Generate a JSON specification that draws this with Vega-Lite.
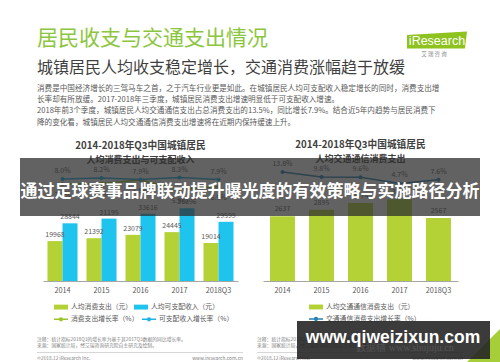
{
  "$schema": "https://vega.github.io/schema/vega-lite/v6.json",
  "padding": {"left": 20, "top": 27, "right": 0, "bottom": 0},
  "background": "white",
  "bounds": "flush",
  "spacing": 176,
  "config": {
    "font": "Noto Sans CJK SC",
    "view": {"stroke": null},
    "axis": {"labelFont": "Noto Sans CJK SC"},
    "legend": {"labelFont": "Noto Sans CJK SC"}
  },
  "datasets": {
    "leftBars": [
      {"year": "2014", "series": "人均消费支出（元）", "value": 19968},
      {"year": "2014", "series": "人均可支配收入（元）", "value": 28844},
      {"year": "2015", "series": "人均消费支出（元）", "value": 21392},
      {"year": "2015", "series": "人均可支配收入（元）", "value": 31195},
      {"year": "2016", "series": "人均消费支出（元）", "value": 23079},
      {"year": "2016", "series": "人均可支配收入（元）", "value": 33616},
      {"year": "2017", "series": "人均消费支出（元）", "value": 24445},
      {"year": "2017", "series": "人均可支配收入（元）", "value": 36396},
      {"year": "2018Q3", "series": "人均消费支出（元）", "value": 19014},
      {"year": "2018Q3", "series": "人均可支配收入（元）", "value": 29599}
    ],
    "leftRates": [
      {"year": "2014", "rate": "消费支出增长率（%）", "pct": 0.070},
      {"year": "2015", "rate": "消费支出增长率（%）", "pct": 0.071},
      {"year": "2016", "rate": "消费支出增长率（%）", "pct": 0.078},
      {"year": "2017", "rate": "消费支出增长率（%）", "pct": 0.059},
      {"year": "2018Q3", "rate": "消费支出增长率（%）", "pct": 0.065},
      {"year": "2014", "rate": "可支配收入增长率（%）", "pct": 0.080},
      {"year": "2015", "rate": "可支配收入增长率（%）", "pct": 0.082},
      {"year": "2016", "rate": "可支配收入增长率（%）", "pct": 0.079},
      {"year": "2017", "rate": "可支配收入增长率（%）", "pct": 0.083},
      {"year": "2018Q3", "rate": "可支配收入增长率（%）", "pct": 0.079}
    ],
    "rightBars": [
      {"year": "2014", "series": "人均交通通信消费支出（元）", "value": 2637},
      {"year": "2015", "series": "人均交通通信消费支出（元）", "value": 2895},
      {"year": "2016", "series": "人均交通通信消费支出（元）", "value": 3174},
      {"year": "2017", "series": "人均交通通信消费支出（元）", "value": 3322},
      {"year": "2018Q3", "series": "人均交通通信消费支出（元）", "value": 2567}
    ],
    "rightRates": [
      {"year": "2014", "rate": "交通通信消费支出增长率（%）", "pct": 0.138},
      {"year": "2015", "rate": "交通通信消费支出增长率（%）", "pct": 0.098},
      {"year": "2016", "rate": "交通通信消费支出增长率（%）", "pct": 0.096},
      {"year": "2017", "rate": "交通通信消费支出增长率（%）", "pct": 0.047},
      {"year": "2018Q3", "rate": "交通通信消费支出增长率（%）", "pct": 0.076}
    ],
    "footer": [
      {"side": "左", "line": "注释", "pos": "start", "text": "注释：统计指标2018Q3的增长率为基于其2017Q3数据的同比增长率。"},
      {"side": "左", "line": "来源", "pos": "start", "text": "来源：国家统计局，经艾瑞咨询研究院自主研究及绘制。"},
      {"side": "左", "line": "版权", "pos": "start", "text": "©2018.12 iResearch Inc."},
      {"side": "左", "line": "版权", "pos": "end", "text": "www.iresearch.com.cn"},
      {"side": "右", "line": "注释", "pos": "start", "text": "注释：统计指标2018Q3的增长率为基于其2017Q3数据的同比增长率。"},
      {"side": "右", "line": "来源", "pos": "start", "text": "来源：国家统计局，经艾瑞咨询研究院自主研究及绘制。"},
      {"side": "右", "line": "版权", "pos": "start", "text": "©2018.12 iResearch Inc."},
      {"side": "右", "line": "版权", "pos": "end", "text": "www.iresearch.com.cn"}
    ],
    "separators": [
      {"side": "左", "line": "分隔"},
      {"side": "右", "line": "分隔"}
    ]
  },
  "vconcat": [
    {
      "title": {
        "text": "居民收支与交通支出情况",
        "subtitle": "城镇居民人均收支稳定增长，交通消费涨幅趋于放缓",
        "anchor": "start",
        "frame": "group",
        "dx": -6,
        "offset": 9,
        "font": "Noto Sans CJK SC",
        "fontSize": 21,
        "fontWeight": "normal",
        "color": "#8cc63e",
        "subtitleFont": "Noto Sans CJK SC",
        "subtitleFontSize": 16,
        "subtitleColor": "#3f3f3f",
        "subtitlePadding": 11
      },
      "bounds": "flush",
      "vconcat": [
        {
          "title": {
            "text": [
              "消费是中国经济增长的三驾马车之首，之于汽车行业更是如此。在城镇居民人均可支配收入稳定增长的同时，消费支出增",
              "长率却有所放缓。2017-2018年三季度，城镇居民消费支出增速明显低于可支配收入增速。",
              "2018年前3个季度，城镇居民人均交通通信支出占总消费支出的13.5%，同比增长7.9%。结合近5年内趋势与居民消费下",
              "降的变化看，城镇居民人均交通通信消费支出增速将在近期内保持缓速上升。"
            ],
            "anchor": "start",
            "frame": "group",
            "dx": -6,
            "offset": 14,
            "fontSize": 7.6,
            "fontWeight": "normal",
            "color": "#595959",
            "lineHeight": 11.3
          },
          "bounds": "flush",
          "spacing": 25,
          "resolve": {
            "scale": {"color": "independent", "stroke": "independent", "fill": "independent"},
            "legend": {"color": "independent", "stroke": "independent", "fill": "independent"}
          },
          "hconcat": [
            {
              "width": 195,
              "height": 120,
              "title": {
                "text": "2014-2018年Q3中国城镇居民",
                "subtitle": "人均消费支出与可支配收入",
                "anchor": "middle",
                "offset": -4,
                "fontSize": 9.7,
                "fontWeight": "bold",
                "color": "#404040",
                "subtitleFontSize": 9,
                "subtitleFontWeight": "bold",
                "subtitleColor": "#404040",
                "subtitlePadding": 5
              },
              "layer": [
                {
                  "data": {"name": "leftBars"},
                  "mark": {"type": "bar"},
                  "encoding": {
                    "x": {"field": "year", "type": "nominal", "sort": null,
                          "scale": {"paddingInner": 0.23, "paddingOuter": 0.115},
                          "axis": {"title": null, "ticks": false, "domainColor": "#a6a6a6", "labelFontSize": 7.3, "labelColor": "#595959", "labelPadding": 5, "labelAngle": 0}},
                    "xOffset": {"field": "series", "type": "nominal", "sort": null,
                                "scale": {"domain": ["人均消费支出（元）", "人均可支配收入（元）"], "paddingInner": 0, "paddingOuter": 0}},
                    "y": {"field": "value", "type": "quantitative", "scale": {"domain": [0, 60000], "nice": false}, "axis": null},
                    "color": {"field": "series", "type": "nominal",
                              "scale": {"domain": ["人均消费支出（元）", "人均可支配收入（元）"], "range": ["#b4d236", "#1ec3ee"]},
                              "legend": {"orient": "none", "legendX": 10, "legendY": 138, "direction": "horizontal", "columns": 2, "columnPadding": 0, "title": null, "symbolType": "M-1,-0.35H1V0.35H-1Z", "symbolSize": 196, "labelFontSize": 6.8, "labelColor": "#595959", "labelOffset": 2}}
                  }
                },
                {
                  "data": {"name": "leftBars"},
                  "mark": {"type": "text", "baseline": "bottom", "dy": -3, "fontSize": 7, "color": "#595959"},
                  "encoding": {
                    "x": {"field": "year", "type": "nominal", "sort": null},
                    "xOffset": {"field": "series", "type": "nominal", "sort": null},
                    "y": {"field": "value", "type": "quantitative", "scale": {"domain": [0, 60000], "nice": false}, "axis": null},
                    "text": {"field": "value", "type": "quantitative", "format": "d"}
                  }
                },
                {
                  "data": {"name": "leftRates"},
                  "mark": {"type": "line", "strokeWidth": 1.5},
                  "encoding": {
                    "x": {"field": "year", "type": "nominal", "sort": null},
                    "y": {"field": "pct", "type": "quantitative", "scale": {"domain": [-0.124, 0.116], "nice": false}, "axis": null},
                    "stroke": {"field": "rate", "type": "nominal",
                               "scale": {"domain": ["消费支出增长率（%）", "可支配收入增长率（%）"], "range": ["#9cc42a", "#1cb4e6"]},
                               "legend": {"orient": "none", "legendX": 10, "legendY": 150, "direction": "horizontal", "columns": 2, "columnPadding": 0, "title": null, "symbolType": "M-1,0H1M-0.2,0A0.2,0.2,0,1,1,0.2,0A0.2,0.2,0,1,1,-0.2,0", "symbolSize": 196, "symbolStrokeWidth": 1.5, "labelFontSize": 6.8, "labelColor": "#595959", "labelOffset": 2}}
                  }
                },
                {
                  "data": {"name": "leftRates"},
                  "mark": {"type": "point", "filled": true, "size": 16, "opacity": 1},
                  "encoding": {
                    "x": {"field": "year", "type": "nominal", "sort": null},
                    "y": {"field": "pct", "type": "quantitative", "scale": {"domain": [-0.124, 0.116], "nice": false}, "axis": null},
                    "fill": {"field": "rate", "type": "nominal",
                             "scale": {"domain": ["消费支出增长率（%）", "可支配收入增长率（%）"], "range": ["#9cc42a", "#1cb4e6"]},
                             "legend": null}
                  }
                },
                {
                  "data": {"name": "leftRates"},
                  "transform": [{"filter": "datum.rate === '可支配收入增长率（%）'"}],
                  "mark": {"type": "text", "baseline": "bottom", "dy": -5, "fontSize": 7, "color": "#595959"},
                  "encoding": {
                    "x": {"field": "year", "type": "nominal", "sort": null},
                    "y": {"field": "pct", "type": "quantitative", "scale": {"domain": [-0.124, 0.116], "nice": false}, "axis": null},
                    "text": {"field": "pct", "type": "quantitative", "format": ".1%"}
                  }
                },
                {
                  "data": {"name": "leftRates"},
                  "transform": [{"filter": "datum.rate === '消费支出增长率（%）'"}],
                  "mark": {"type": "text", "baseline": "top", "dy": 7, "fontSize": 7, "color": "#595959"},
                  "encoding": {
                    "x": {"field": "year", "type": "nominal", "sort": null},
                    "y": {"field": "pct", "type": "quantitative", "scale": {"domain": [-0.124, 0.116], "nice": false}, "axis": null},
                    "text": {"field": "pct", "type": "quantitative", "format": ".1%"}
                  }
                }
              ],
              "resolve": {"scale": {"y": "independent"}}
            },
            {
              "width": 195,
              "height": 120,
              "title": {
                "text": "2014-2018年Q3中国城镇居民",
                "subtitle": "人均交通通信消费支出",
                "anchor": "middle",
                "offset": -4,
                "fontSize": 9.7,
                "fontWeight": "bold",
                "color": "#404040",
                "subtitleFontSize": 9,
                "subtitleFontWeight": "bold",
                "subtitleColor": "#404040",
                "subtitlePadding": 5
              },
              "layer": [
                {
                  "data": {"name": "rightBars"},
                  "mark": {"type": "bar"},
                  "encoding": {
                    "x": {"field": "year", "type": "nominal", "sort": null,
                          "scale": {"paddingInner": 0.36, "paddingOuter": 0.18},
                          "axis": {"title": null, "ticks": false, "domainColor": "#a6a6a6", "labelFontSize": 7.3, "labelColor": "#595959", "labelPadding": 5, "labelAngle": 0}},
                    "y": {"field": "value", "type": "quantitative", "scale": {"domain": [0, 4880], "nice": false}, "axis": null},
                    "color": {"field": "series", "type": "nominal",
                              "scale": {"domain": ["人均交通通信消费支出（元）"], "range": ["#b4d236"]},
                              "legend": {"orient": "none", "legendX": 45, "legendY": 138, "title": null, "symbolType": "M-1,-0.35H1V0.35H-1Z", "symbolSize": 196, "labelFontSize": 6.8, "labelColor": "#595959", "labelOffset": 2}}
                  }
                },
                {
                  "data": {"name": "rightBars"},
                  "mark": {"type": "text", "baseline": "bottom", "dy": -4, "fontSize": 7, "color": "#595959"},
                  "encoding": {
                    "x": {"field": "year", "type": "nominal", "sort": null},
                    "y": {"field": "value", "type": "quantitative", "scale": {"domain": [0, 4880], "nice": false}, "axis": null},
                    "text": {"field": "value", "type": "quantitative", "format": "d"}
                  }
                },
                {
                  "data": {"name": "rightRates"},
                  "mark": {"type": "line", "strokeWidth": 1.5},
                  "encoding": {
                    "x": {"field": "year", "type": "nominal", "sort": null},
                    "y": {"field": "pct", "type": "quantitative", "scale": {"domain": [-0.734, 0.226], "nice": false}, "axis": null},
                    "stroke": {"field": "rate", "type": "nominal",
                               "scale": {"domain": ["交通通信消费支出增长率（%）"], "range": ["#2582b3"]},
                               "legend": {"orient": "none", "legendX": 45, "legendY": 150, "title": null, "symbolType": "M-1,0H1M-0.2,0A0.2,0.2,0,1,1,0.2,0A0.2,0.2,0,1,1,-0.2,0", "symbolSize": 196, "symbolStrokeWidth": 1.5, "labelFontSize": 6.8, "labelColor": "#595959", "labelOffset": 2}}
                  }
                },
                {
                  "data": {"name": "rightRates"},
                  "mark": {"type": "point", "filled": true, "size": 16, "opacity": 1, "color": "#2582b3"},
                  "encoding": {
                    "x": {"field": "year", "type": "nominal", "sort": null},
                    "y": {"field": "pct", "type": "quantitative", "scale": {"domain": [-0.734, 0.226], "nice": false}, "axis": null}
                  }
                },
                {
                  "data": {"name": "rightRates"},
                  "mark": {"type": "text", "baseline": "bottom", "dy": -5, "fontSize": 7, "color": "#595959"},
                  "encoding": {
                    "x": {"field": "year", "type": "nominal", "sort": null},
                    "y": {"field": "pct", "type": "quantitative", "scale": {"domain": [-0.734, 0.226], "nice": false}, "axis": null},
                    "text": {"field": "pct", "type": "quantitative", "format": ".1%"}
                  }
                }
              ],
              "resolve": {"scale": {"y": "independent"}}
            }
          ]
        }
      ]
    },
    {
      "width": 415,
      "height": 25,
      "layer": [
        {
          "data": {"name": "footer"},
          "transform": [{"filter": "datum.pos === 'start'"}],
          "mark": {"type": "text", "align": "left", "baseline": "middle", "fontSize": 4.8, "color": "#7f7f7f"},
          "encoding": {
            "x": {"field": "side", "type": "nominal", "sort": null, "bandPosition": 0,
                  "scale": {"domain": ["左", "右"], "range": [-6, 420], "paddingInner": 0.0636, "paddingOuter": 0}, "axis": null},
            "y": {"field": "line", "type": "nominal",
                  "scale": {"domain": ["注释", "来源", "分隔", "版权"], "paddingInner": 0.85, "paddingOuter": 0.425}, "axis": null},
            "text": {"field": "text"}
          }
        },
        {
          "data": {"name": "footer"},
          "transform": [{"filter": "datum.pos === 'end'"}],
          "mark": {"type": "text", "align": "right", "baseline": "middle", "fontSize": 4.8, "color": "#7f7f7f"},
          "encoding": {
            "x": {"field": "side", "type": "nominal", "sort": null, "bandPosition": 1},
            "y": {"field": "line", "type": "nominal"},
            "text": {"field": "text"}
          }
        },
        {
          "data": {"name": "separators"},
          "mark": {"type": "rect", "color": "#c8c8c8"},
          "encoding": {
            "x": {"field": "side", "type": "nominal", "sort": null},
            "y": {"field": "line", "type": "nominal"}
          }
        },
        {
          "data": {"values": [{"label": "iResearch"}]},
          "mark": {"type": "point", "shape": "M-1,-0.2L1,-0.32L0.93,0.25L-1,0.25Z", "filled": true, "color": "#8dc21f", "opacity": 1, "size": 3600},
          "encoding": {"x": {"value": 394}, "y": {"value": -296}}
        },
        {
          "data": {"values": [{"label": "iResearch"}]},
          "mark": {"type": "text", "font": "Liberation Sans", "fontSize": 12.5, "color": "white", "align": "center", "baseline": "middle"},
          "encoding": {"x": {"value": 394}, "y": {"value": -296}, "text": {"field": "label"}}
        },
        {
          "data": {"values": [{"label": "艾    瑞    咨    询"}]},
          "mark": {"type": "text", "fontSize": 5.5, "color": "#8c8c8c", "align": "center", "baseline": "middle"},
          "encoding": {"x": {"value": 391}, "y": {"value": -283}, "text": {"field": "label"}}
        },
        {
          "data": {"values": [{"label": "通过足球赛事品牌联动提升曝光度的有效策略与实施路径分析"}]},
          "mark": {"type": "rect", "color": "#2e2e2e", "opacity": 0.75},
          "encoding": {"x": {"value": -23}, "x2": {"value": 437}, "y": {"value": -179}, "y2": {"value": -121}}
        },
        {
          "data": {"values": [{"label": "通过足球赛事品牌联动提升曝光度的有效策略与实施路径分析"}]},
          "mark": {"type": "text", "fontSize": 17, "fontWeight": "bold", "color": "white", "align": "center", "baseline": "middle"},
          "encoding": {"x": {"value": 207}, "y": {"value": -145}, "text": {"field": "label"}}
        },
        {
          "data": {"values": [{"label": "9"}]},
          "mark": {"type": "point", "shape": "M1,-1L1,1L-1,1Z", "filled": true, "color": "#a6ce39", "opacity": 1, "size": 1600},
          "encoding": {"x": {"value": 438}, "y": {"value": 11}}
        },
        {
          "data": {"values": [{"label": "www.qiweizixun.com"}]},
          "mark": {"type": "rect", "color": "#262626", "opacity": 0.9},
          "encoding": {"x": {"value": 254}, "x2": {"value": 447}, "y": {"value": -16}, "y2": {"value": 22}}
        },
        {
          "data": {"values": [{"label": "数据猫  www.shujuju.cn"}]},
          "mark": {"type": "text", "font": "Liberation Serif", "fontSize": 10, "color": "#555555", "align": "center", "baseline": "middle"},
          "encoding": {"x": {"value": 362}, "y": {"value": 11}, "text": {"field": "label"}}
        },
        {
          "data": {"values": [{"label": "www.qiweizixun.com"}]},
          "mark": {"type": "text", "font": "Liberation Sans", "fontSize": 17.5, "fontWeight": "bold", "color": "white", "align": "center", "baseline": "middle"},
          "encoding": {"x": {"value": 350}, "y": {"value": 1}, "text": {"field": "label"}}
        }
      ]
    }
  ]
}
